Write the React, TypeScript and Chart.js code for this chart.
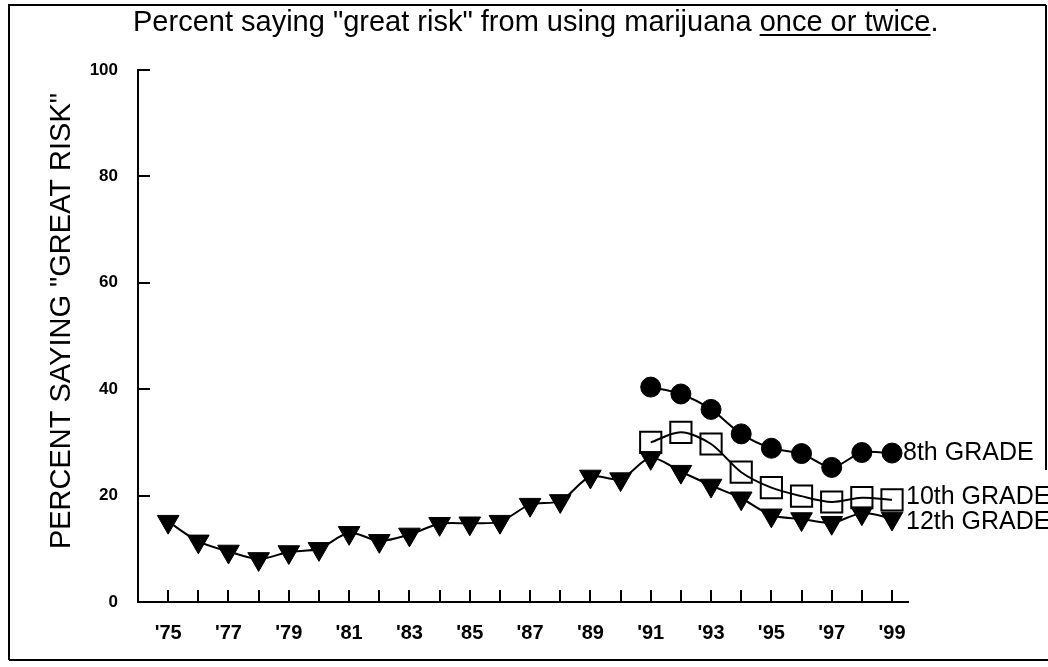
import React, { useEffect, useRef } from 'react';
import { Chart, registerables } from 'chart.js';

Chart.register(...registerables);

// ---- Data ----
const years12 = [1975, 1976, 1977, 1978, 1979, 1980, 1981, 1982, 1983, 1984, 1985, 1986, 1987, 1988, 1989, 1990, 1991, 1992, 1993, 1994, 1995, 1996, 1997, 1998, 1999];
const grade12 = [15.1, 11.4, 9.5, 8.1, 9.4, 10.0, 13.0, 11.5, 12.7, 14.7, 14.8, 15.1, 18.3, 19.0, 23.6, 23.1, 27.1, 24.5, 21.9, 19.5, 16.3, 15.6, 14.9, 16.7, 15.7];
const years8and10 = [1991, 1992, 1993, 1994, 1995, 1996, 1997, 1998, 1999];
const grade8 = [40.4, 39.1, 36.2, 31.6, 28.9, 27.9, 25.3, 28.1, 28.0];
const grade10 = [30.0, 31.9, 29.7, 24.4, 21.5, 19.9, 18.8, 19.6, 19.2];
const seriesNames = ['8th GRADE', '10th GRADE', '12th GRADE'];
const xLabelYears = [1975, 1977, 1979, 1981, 1983, 1985, 1987, 1989, 1991, 1993, 1995, 1997, 1999];
const yTickValues = [0, 20, 40, 60, 80, 100];
const titleMain = 'Percent saying "great risk" from using marijuana ';
const titleUnderlined = 'once or twice';
const titleEnd = '.';
const yAxisTitle = 'PERCENT SAYING "GREAT RISK"';

const FONT = '"Liberation Sans", Arial, Helvetica, sans-serif';

// label placement (pixel nudges) for series end labels
const labelStyle = [
  { dx: 11, dy: 0 },
  { dx: 14, dy: -3 },
  { dx: 14, dy: 4 },
];

const decorPlugin = {
  id: 'decor',
  afterDraw(chart: any) {
    const { ctx } = chart;
    const x = chart.scales.x;
    const y = chart.scales.y;
    ctx.save();
    ctx.fillStyle = '#000';
    ctx.strokeStyle = '#000';

    // frame
    ctx.lineWidth = 2;
    ctx.beginPath();
    ctx.moveTo(9, 660);
    ctx.lineTo(9, 5);
    ctx.lineTo(1046, 5);
    ctx.moveTo(9, 660);
    ctx.lineTo(1048, 660);
    ctx.moveTo(1046, 5);
    ctx.lineTo(1046, 470);
    ctx.stroke();

    // inward tick marks
    ctx.lineWidth = 2;
    ctx.beginPath();
    years12.forEach((v) => {
      const px = Math.round(x.getPixelForValue(v));
      ctx.moveTo(px, y.bottom);
      ctx.lineTo(px, y.bottom - 12);
    });
    yTickValues.filter((v) => v > 0).forEach((v) => {
      const py = Math.round(y.getPixelForValue(v));
      ctx.moveTo(x.left, py);
      ctx.lineTo(x.left + 12, py);
    });
    ctx.stroke();

    // title with underline
    ctx.font = `29px ${FONT}`;
    ctx.textAlign = 'left';
    ctx.textBaseline = 'alphabetic';
    const tx = 133;
    const ty = 31;
    ctx.fillText(titleMain, tx, ty);
    const w1 = ctx.measureText(titleMain).width;
    ctx.fillText(titleUnderlined, tx + w1, ty);
    const w2 = ctx.measureText(titleUnderlined).width;
    ctx.fillText(titleEnd, tx + w1 + w2, ty);
    ctx.fillRect(tx + w1, ty + 3, w2, 2);

    // series end labels
    ctx.font = `25px ${FONT}`;
    ctx.textBaseline = 'middle';
    const lastVals = [grade8[grade8.length - 1], grade10[grade10.length - 1], grade12[grade12.length - 1]];
    seriesNames.forEach((name, i) => {
      const px = x.getPixelForValue(1999) + labelStyle[i].dx;
      const py = y.getPixelForValue(lastVals[i]) + labelStyle[i].dy;
      ctx.fillText(name, px, py);
    });

    // y axis title
    ctx.translate(62, 321);
    ctx.rotate(-Math.PI / 2);
    ctx.font = `29px ${FONT}`;
    ctx.textAlign = 'center';
    ctx.textBaseline = 'middle';
    ctx.fillText(yAxisTitle, 0, 0);
    ctx.restore();
  },
};

export default function App() {
  const canvasRef = useRef<HTMLCanvasElement | null>(null);

  useEffect(() => {
    const canvas = canvasRef.current;
    if (!canvas) return;
    const toXY = (xs: number[], ys: number[]) => xs.map((v, i) => ({ x: v, y: ys[i] }));
    const chart = new Chart(canvas, {
      type: 'line',
      data: {
        datasets: [
          {
            label: seriesNames[2],
            data: toXY(years12, grade12),
            borderColor: '#000',
            borderWidth: 2,
            backgroundColor: '#000',
            pointStyle: 'triangle',
            rotation: 180,
            pointRadius: 12.5,
            pointBorderWidth: 1,
            pointBackgroundColor: '#000',
            pointBorderColor: '#000',
            tension: 0.3,
          },
          {
            label: seriesNames[1],
            data: toXY(years8and10, grade10),
            borderColor: '#000',
            borderWidth: 2,
            backgroundColor: 'rgba(0,0,0,0)',
            pointStyle: 'rect',
            pointRadius: 15,
            pointBorderWidth: 2,
            pointBackgroundColor: 'rgba(0,0,0,0)',
            pointBorderColor: '#000',
            tension: 0.3,
          },
          {
            label: seriesNames[0],
            data: toXY(years8and10, grade8),
            borderColor: '#000',
            borderWidth: 2,
            backgroundColor: '#000',
            pointStyle: 'circle',
            pointRadius: 10,
            pointBorderWidth: 1,
            pointBackgroundColor: '#000',
            pointBorderColor: '#000',
            tension: 0.3,
          },
        ],
      },
      options: {
        responsive: false,
        animation: false,
        devicePixelRatio: 1,
        layout: { padding: { left: 0, top: 70, right: 140, bottom: 0 } },
        plugins: { legend: { display: false }, tooltip: { enabled: false }, title: { display: false } },
        scales: {
          x: {
            type: 'linear',
            min: 1974,
            max: 1999.53,
            afterBuildTicks: (scale: any) => {
              scale.ticks = years12.map((v) => ({ value: v }));
            },
            afterFit: (scale: any) => {
              scale.height = 65;
            },
            grid: { display: false, drawTicks: false, tickLength: 0 },
            border: { display: true, color: '#000', width: 2 },
            ticks: {
              autoSkip: false,
              maxRotation: 0,
              padding: 19,
              color: '#000',
              font: { family: FONT, size: 20, weight: 'bold' },
              callback: (v: any) => (xLabelYears.includes(Number(v)) ? "'" + String(v).slice(2) : ''),
            },
          },
          y: {
            type: 'linear',
            min: 0,
            max: 100,
            afterBuildTicks: (scale: any) => {
              scale.ticks = yTickValues.map((v) => ({ value: v }));
            },
            afterFit: (scale: any) => {
              scale.width = 138;
            },
            grid: { display: false, drawTicks: false, tickLength: 0 },
            border: { display: true, color: '#000', width: 2 },
            ticks: {
              padding: 20,
              color: '#000',
              font: { family: FONT, size: 17, weight: 'bold' },
              callback: (v: any) => String(v),
            },
          },
        },
      },
      plugins: [decorPlugin],
    });
    return () => chart.destroy();
  }, []);

  return (
    <div style={{ position: 'fixed', left: 0, top: 0, width: 1048, height: 667, background: '#fff' }}>
      <canvas ref={canvasRef} width={1048} height={667} style={{ display: 'block' }} />
    </div>
  );
}
